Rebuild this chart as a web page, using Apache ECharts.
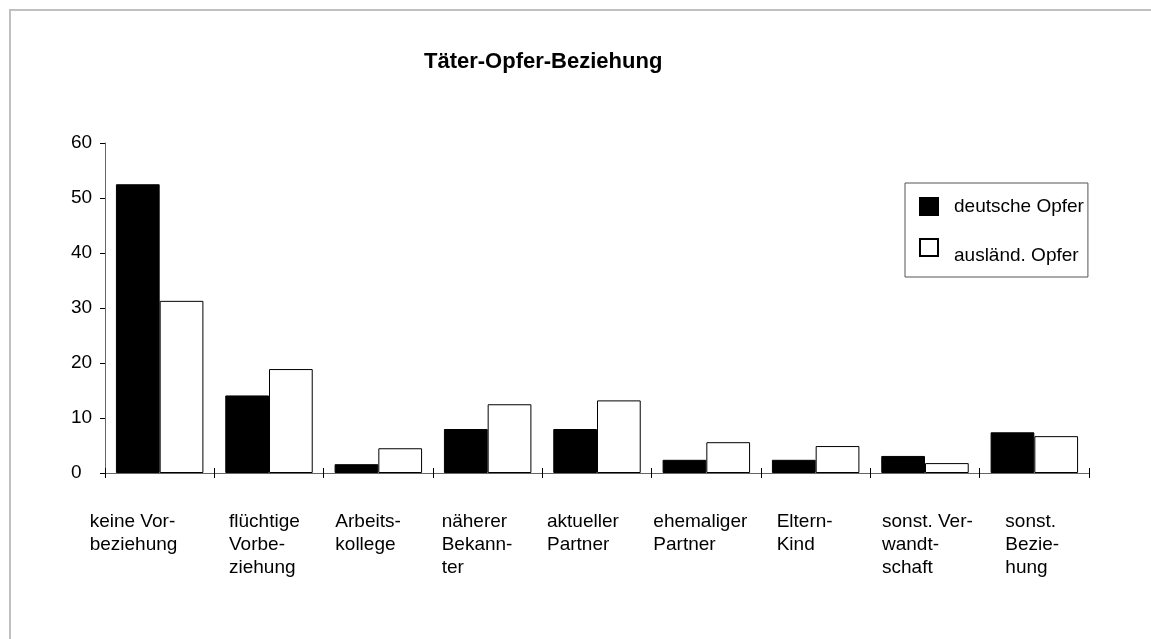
<!DOCTYPE html>
<html>
<head>
<meta charset="utf-8">
<title>Täter-Opfer-Beziehung</title>
<script src="https://cdn.jsdelivr.net/npm/echarts@6/dist/echarts.min.js"></script>
<style>
    html, body { margin: 0; padding: 0; background: #fff; }
    #js_chart { width: 1151px; height: 639px; }
</style>
</head>
<body>
<div id="js_chart"></div>
<script>
// Kategorien (mit Trennstrichen wie im Original)
var categories = [
    'keine Vor-\nbeziehung',
    'flüchtige\nVorbe-\nziehung',
    'Arbeits-\nkollege',
    'näherer\nBekann-\nter',
    'aktueller\nPartner',
    'ehemaliger\nPartner',
    'Eltern-\nKind',
    'sonst. Ver-\nwandt-\nschaft',
    'sonst.\nBezie-\nhung'
];
var seriesNames = ['deutsche Opfer', 'ausländ. Opfer'];
var deutscheOpfer = [52.5, 14.1, 1.6, 8.0, 8.0, 2.4, 2.4, 3.1, 7.4];
var auslaendOpfer = [31.3, 18.9, 4.5, 12.5, 13.2, 5.6, 4.9, 1.8, 6.7];
var yTicks = [0, 10, 20, 30, 40, 50, 60];

// horizontale Verschiebung der Achsenbeschriftung (Stil, keine Daten)
var labelShift = [-70, -40, -43, -46, -50, -53, -39, -43, -29];

var font = "'Liberation Sans', Arial, sans-serif";

(function() {
    var rich = {};
    for (var i = 0; i < labelShift.length; i++) {
        rich['s' + i] = {
            fontFamily: font,
            fontSize: 19,
            lineHeight: 23,
            color: '#000',
            padding: [0, 0, 0, labelShift[i]]
        };
    }

    var legendRich = {
        l0: { fontFamily: font, fontSize: 19, color: '#000', padding: [0, 0, 0, 11] },
        l1: { fontFamily: font, fontSize: 19, color: '#000', padding: [16, 0, 0, 11] }
    };

    var option = {
        backgroundColor: '#fff',
        animation: false,
        title: {
            text: 'Täter-Opfer-Beziehung',
            left: 424,
            top: 51,
            padding: 0,
            textStyle: {
                fontFamily: font,
                fontSize: 22,
                fontWeight: 'bold',
                color: '#000'
            }
        },
        legend: {
            orient: 'vertical',
            left: 905,
            top: 183,
            padding: [14, 4, 12, 14],
            itemWidth: 18,
            itemHeight: 17,
            itemGap: 22,
            icon: 'rect',
            borderColor: '#555',
            borderWidth: 1,
            formatter: function(name) {
                return '{l' + seriesNames.indexOf(name) + '|' + name + '}';
            },
            textStyle: {
                fontFamily: font,
                fontSize: 19,
                color: '#000',
                rich: legendRich
            },
            data: seriesNames
        },
        grid: {
            left: 105,
            right: 62,
            top: 143,
            bottom: 166
        },
        xAxis: [{
                type: 'category',
                data: categories,
                position: 'bottom',
                boundaryGap: true,
                axisLine: { lineStyle: { color: '#666', width: 1 } },
                axisTick: {
                    show: true,
                    length: 5,
                    interval: 0,
                    lineStyle: { color: '#000' }
                },
                axisLabel: {
                    interval: 0,
                    hideOverlap: false,
                    align: 'left',
                    verticalAlign: 'top',
                    margin: 37,
                    formatter: function(value, idx) {
                        return value.split('\n').map(function(line) {
                            return '{s' + idx + '|' + line + '}';
                        }).join('\n');
                    },
                    rich: rich
                }
            },
            {
                // zweite Achse nur fuer die nach oben zeigenden Striche
                type: 'category',
                data: categories,
                position: 'bottom',
                boundaryGap: true,
                axisLine: { show: false },
                axisTick: {
                    show: true,
                    inside: true,
                    length: 5,
                    interval: 0,
                    lineStyle: { color: '#000' }
                },
                axisLabel: { show: false }
            }
        ],
        yAxis: [{
            type: 'value',
            min: yTicks[0],
            max: yTicks[yTicks.length - 1],
            interval: yTicks[1] - yTicks[0],
            axisLine: { show: true, lineStyle: { color: '#666', width: 1 } },
            axisTick: { show: true, length: 5, lineStyle: { color: '#000' } },
            splitLine: { show: false },
            axisLabel: {
                align: 'left',
                margin: 34,
                fontFamily: font,
                fontSize: 19,
                color: '#000'
            }
        }],
        series: [{
                name: seriesNames[0],
                type: 'bar',
                barGap: '0%',
                barCategoryGap: '20%',
                itemStyle: { color: '#000', borderColor: '#000', borderWidth: 1 },
                data: deutscheOpfer
            },
            {
                name: seriesNames[1],
                type: 'bar',
                barGap: '0%',
                barCategoryGap: '20%',
                itemStyle: { color: '#fff', borderColor: '#000', borderWidth: 1 },
                data: auslaendOpfer
            }
        ],
        graphic: [{
            // grauer Rahmen oben/links
            type: 'rect',
            silent: true,
            shape: { x: 10, y: 10, width: 1200, height: 700 },
            style: { fill: 'none', stroke: '#c0c0c0', lineWidth: 2 }
        }]
    };

    var chart = echarts.init(document.getElementById('js_chart'), null, { renderer: 'canvas' });
    chart.setOption(option, true);
})();
</script>
</body>
</html>
